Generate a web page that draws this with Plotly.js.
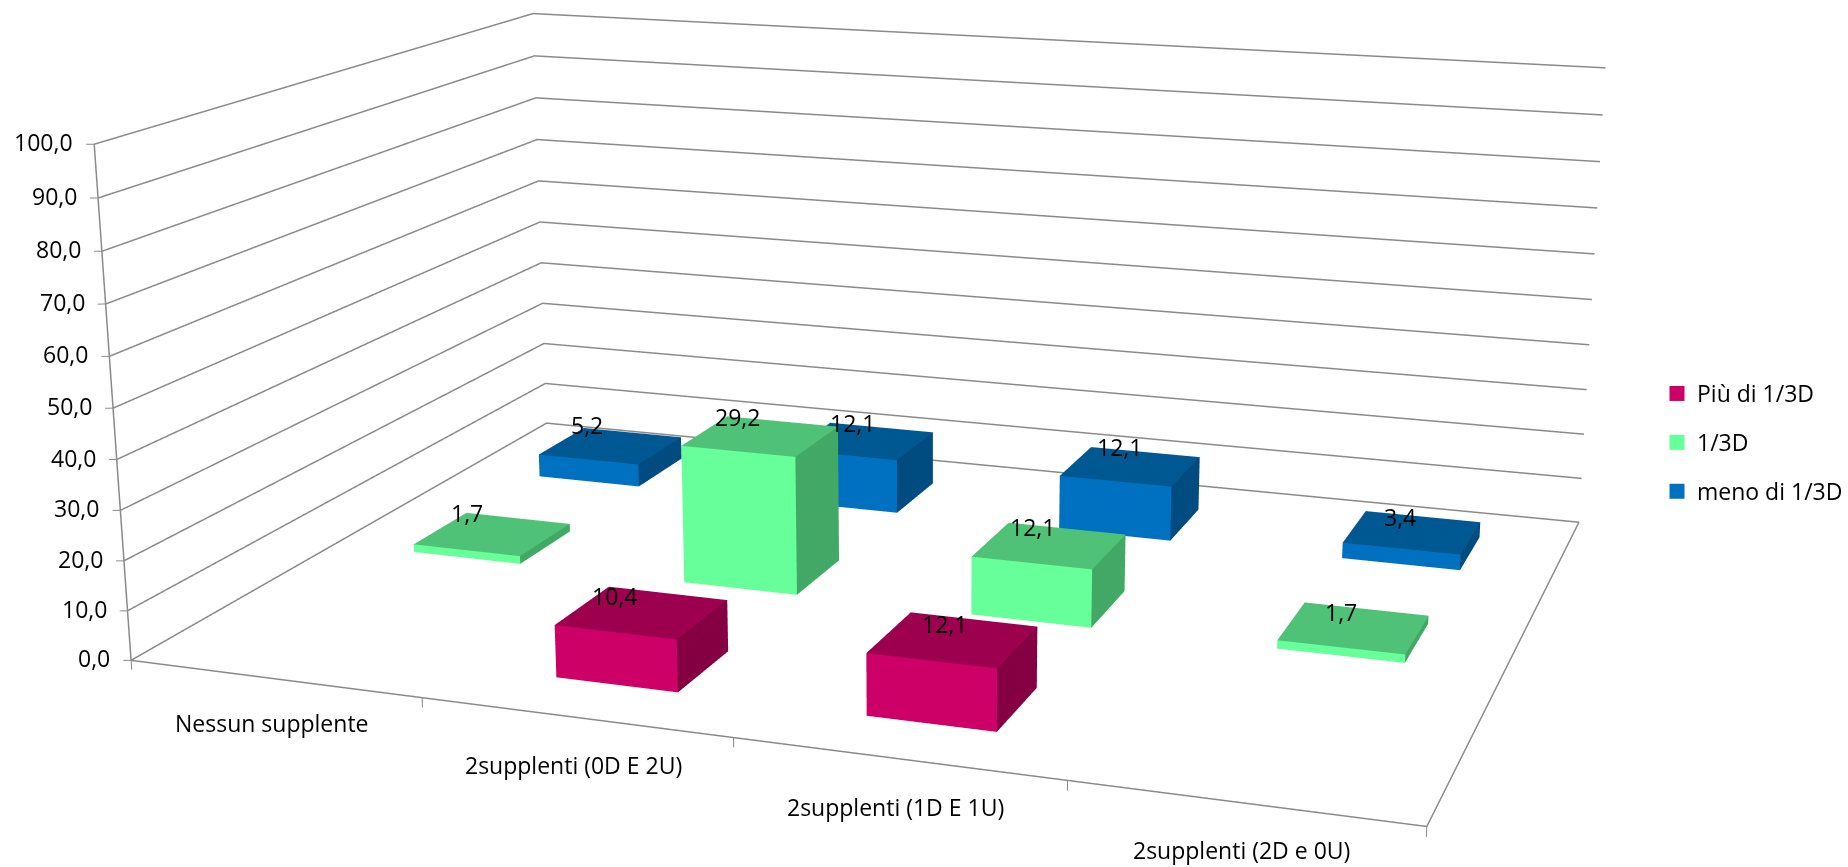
<!DOCTYPE html>
<html><head><meta charset="utf-8"><script src="https://cdn.plot.ly/plotly-3.0.1.min.js"></script>
<style>html,body{margin:0;padding:0;background:#fff;width:1848px;height:867px;overflow:hidden}
#w{position:relative;width:1848px;height:867px;overflow:hidden}#c{position:absolute;left:0;top:-870px}</style></head>
<body><div id="w"><div id="c"></div></div>
<script>
const categories=['Nessun supplente','2supplenti (0D E 2U)','2supplenti (1D E 1U)','2supplenti (2D e 0U)'];
const seriesNames=['Più di 1/3D','1/3D','meno di 1/3D'];
const piuDi=[null,10.4,12.1,null];
const unTerzo=[1.7,29.2,12.1,1.7];
const menoDi=[5.2,12.1,12.1,3.4];
const zTicks=[0,10,20,30,40,50,60,70,80,90,100];
const xTicks=[0,1,2,3,4];
const frontColors=['#CC0066','#66FF99','#0070C0'];
const topColors=['#9C004E','#4FC277','#005892'];
const sideColors=['#850042','#42A866','#004B80'];
const labelDX=[[0,-27,-8,0],[-26,-23,-17,-13],[-24,-10,-11,-12]];
const labelDY=[[0,16,16,0],[21,19,18,16],[21,18,19,15]];
const catDY=[-44,-48,-48,-47];
const values=[piuDi,unTerzo,menoDi];
const fullH=2607, topCut=870;
const font='"Open Sans", sans-serif', fs=23;
const fmt=v=>v.toFixed(1).replace('.',',');

const traces=[];
values.forEach((vals,s)=>{
  const x=[],y=[],z=[],I=[],J=[],K=[],fc=[];
  vals.forEach((v,c)=>{
    if(v===null)return;
    const n=x.length,x0=c+.3,x1=c+.7,y0=s+.3,y1=s+.7;
    [[x0,y0,0],[x1,y0,0],[x1,y1,0],[x0,y1,0],[x0,y0,v],[x1,y0,v],[x1,y1,v],[x0,y1,v]].forEach(p=>{x.push(p[0]);y.push(p[1]);z.push(p[2]);});
    [[4,5,6,topColors],[4,6,7,topColors],[0,1,5,frontColors],[0,5,4,frontColors],[1,2,6,sideColors],[1,6,5,sideColors]].forEach(f=>{
      I.push(n+f[0]);J.push(n+f[1]);K.push(n+f[2]);fc.push(f[3][s]);});
  });
  traces.push({type:'mesh3d',x,y,z,i:I,j:J,k:K,facecolor:fc,flatshading:true,hoverinfo:'skip',showlegend:false,
    lighting:{ambient:1,diffuse:0,specular:0,fresnel:0,roughness:1}});
});
const lineTrace=(w,c,build)=>{const lx=[],ly=[],lz=[];
  build(pts=>{pts.forEach(p=>{lx.push(p[0]);ly.push(p[1]);lz.push(p[2]);});lx.push(null);ly.push(null);lz.push(null);});
  return {type:'scatter3d',mode:'lines',x:lx,y:ly,z:lz,line:{color:c,width:w},hoverinfo:'skip',showlegend:false};};
traces.push(lineTrace(3,'#8A8A8A',seg=>{
  zTicks.forEach(t=>seg([[0,0,t],[0,3,t],[4,3,t]]));
  seg([[0,0,0],[0,0,100]]);seg([[0,0,0],[4,0,0],[4,3,0]]);}));
traces.push(lineTrace(2,'#8A8A8A',seg=>{
  zTicks.forEach(t=>seg([[0,0,t],[-.022,-.0085,t]]));
  xTicks.forEach(t=>seg([[t,0,0],[t,0,-1.9]]));}));
seriesNames.forEach((n,s)=>traces.push({type:'scatter3d',mode:'markers',name:n,legendgroup:n,x:[null],y:[null],z:[null],showlegend:true,
  marker:{symbol:'square',size:15,color:frontColors[s]},hoverinfo:'skip'}));

const ann=[];
zTicks.forEach(t=>ann.push({x:0,y:0,z:t,text:fmt(t),showarrow:false,xanchor:'right',yanchor:'middle',xshift:-19,yshift:2,font:{family:font,size:fs,color:'#000'}}));
categories.forEach((t,c)=>ann.push({x:c+.5,y:0,z:0,text:t,showarrow:false,xanchor:'center',yanchor:'middle',xshift:-2,yshift:catDY[c],font:{family:font,size:fs,color:'#000'}}));
values.forEach((vals,s)=>vals.forEach((v,c)=>{if(v!==null)ann.push({x:c+.5,y:s+.5,z:v,text:fmt(v),showarrow:false,xanchor:'center',yanchor:'middle',xshift:labelDX[s][c],yshift:labelDY[s][c],font:{family:font,size:fs,color:'#000'}});}));

// axis box: ranges leave room around the drawn box x 0-4, y 0-3, z 0-100
const rx=[-.03,4.02],ry=[-.02,3.02],rz=[-2.5,100.5],base={x:1,y:0.72893,z:0.40113};
const dX=(2-(rx[0]+rx[1])/2)/4*base.x,dY=(1.5-(ry[0]+ry[1])/2)/3*base.y,dZ=(50-(rz[0]+rz[1])/2)/100*base.z;
const ax={showgrid:false,showbackground:false,showticklabels:false,showline:false,zeroline:false,title:{text:''},showspikes:false,ticks:'',tickvals:[]};
Plotly.newPlot('c',traces,{width:1848,height:fullH,margin:{l:0,r:0,t:0,b:0,pad:0},paper_bgcolor:'#fff',
 showlegend:true,legend:{x:1658/1848,y:1-(topCut+372)/fullH,xanchor:'left',yanchor:'top',traceorder:'grouped',tracegroupgap:16,font:{family:font,size:fs,color:'#000'},bgcolor:'rgba(0,0,0,0)',itemclick:false,itemdoubleclick:false},
 scene:{domain:{x:[0,1],y:[0,1]},aspectmode:'manual',aspectratio:{x:base.x*(rx[1]-rx[0])/4,y:base.y*(ry[1]-ry[0])/3,z:base.z*(rz[1]-rz[0])/100},
  camera:{eye:{x:0.82494+dX,y:-2.3193+dY,z:0.61452+dZ},center:{x:0.03702+dX,y:-0.05608+dY,z:-0.05163+dZ},up:{x:-0.00606,y:0.00091,z:2.27581}},annotations:ann,
  xaxis:{...ax,range:rx},yaxis:{...ax,range:ry},zaxis:{...ax,range:rz}}},{displayModeBar:false});
</script></body></html>
